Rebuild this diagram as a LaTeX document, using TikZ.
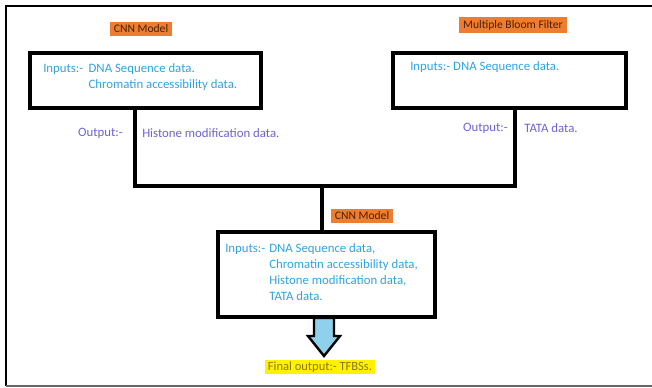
\documentclass[tikz,border=0pt]{standalone}
\usepackage{fontspec}
\setmainfont{Carlito}
\usetikzlibrary{positioning}

\definecolor{florange}{HTML}{ED7D31}
\definecolor{flbrown}{HTML}{4A2000}
\definecolor{flcyan}{HTML}{2FA3DE}
\definecolor{flpurple}{HTML}{6B63D6}
\definecolor{flsky}{HTML}{8FD0EA}
\definecolor{flolive}{HTML}{8C7A00}

\begin{document}
\begin{tikzpicture}[
    x=0.75pt, y=-0.75pt,
    flbox/.style={draw=black, line width=2.7pt, minimum height=41.3pt, inner sep=0pt},
    fllabel/.style={fill=florange, text=flbrown, inner xsep=3pt, inner ysep=2.2pt, font=\fontsize{8.7}{9}\selectfont},
    flin/.style={text=flcyan, anchor=north west, inner sep=0pt, font=\fontsize{9.6}{11.4}\selectfont},
    flout/.style={text=flpurple, inner sep=0pt, font=\fontsize{9.6}{10}\selectfont},
    flfinal/.style={fill=yellow, text=flolive, inner xsep=2pt, inner ysep=1.2pt, font=\fontsize{9.4}{9}\selectfont},
    flline/.style={line width=2.7pt},
    flbig/.style={draw=black, line width=1.8pt, fill=flsky, line join=miter}
]
\useasboundingbox (0,0) rectangle (652,388);
\draw[line width=1.3pt] (652,6) -- (6,6) -- (6,386);
\draw[line width=0.8pt, black!60] (6,386) -- (652,386);

\node[fllabel] (cnnlabel) at (141,29) {CNN Model};
\node[fllabel] (bloomlabel) at (513,25) {Multiple Bloom Filter};
\node[flbox, minimum width=173.3pt] (cnn) at (145.5,80.5) {};
\node[flbox, minimum width=174.8pt] (bloom) at (509.5,80.5) {};
\node[flin] (cnnin) at (43,62) {\begin{tabular}{@{}l@{\hspace{4pt}}l@{}}Inputs:- & DNA Sequence data.\\ & Chromatin accessibility data.\end{tabular}};
\node[flin] (bloomin) at (410,61) {Inputs:- DNA Sequence data.};

\node[flout, anchor=east] (cnnout) at (123,133) {Output:-};
\node[flout, anchor=west] (cnndata) at (142,133) {Histone modification data.};
\node[flout, anchor=east] (bloomout) at (508,128) {Output:-};
\node[flout, anchor=west] (bloomdata) at (524,128) {TATA data.};

\node[fllabel] (mergelabel) at (362,216) {CNN Model};
\node[flbox, minimum width=162.8pt, minimum height=63.8pt] (merge) at (326.5,274.5) {};
\node[flin, font=\fontsize{9.6}{12}\selectfont] (mergein) at (225,241) {\begin{tabular}{@{}l@{\hspace{3pt}}l@{}}Inputs:- & DNA Sequence data,\\ & Chromatin accessibility data,\\ & Histone modification data,\\ & TATA data.\end{tabular}};

\coordinate (cnnjoin) at (135,186);
\coordinate (bloomjoin) at (515,186);
\coordinate (mergejoin) at (322,186);
\draw[flline] (cnn.south -| cnnjoin) -- (cnnjoin) -- (bloomjoin) -- (bloom.south -| bloomjoin);
\draw[flline] (mergejoin) -- (merge.north -| mergejoin);

\coordinate (arrowtip) at (324,356);
\draw[flbig] (arrowtip) -- ++(-16,-20) -- ++(6,0) -- ++(0,-18) -- ++(20,0) -- ++(0,18) -- ++(6,0) -- cycle;
\node[flfinal] (final) at (320,367) {Final output:- TFBSs.};
\end{tikzpicture}
\end{document}
